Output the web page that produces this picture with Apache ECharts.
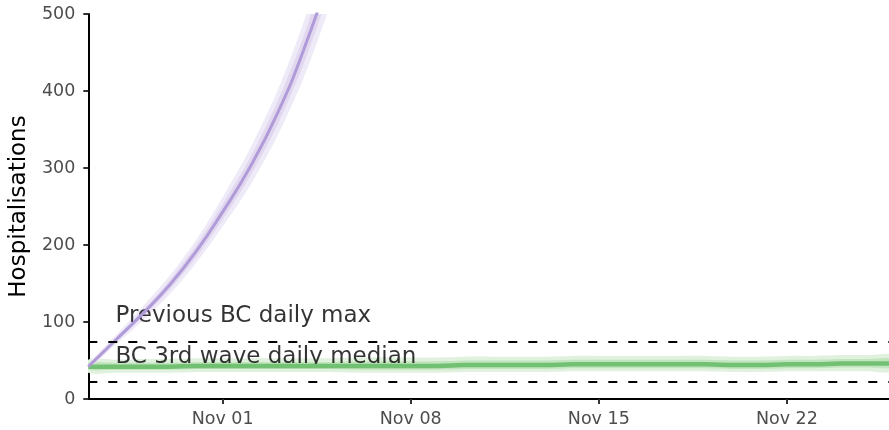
<!DOCTYPE html>
<html>
<head>
<meta charset="utf-8">
<script src="https://cdn.jsdelivr.net/npm/echarts@6/dist/echarts.min.js"></script>
<style>
  html, body { margin: 0; padding: 0; background: #fff; }
  #chart { width: 889px; height: 430px; }
</style>
</head>
<body>
<div id="chart"></div>
<script>
// days from Oct 27 to Nov 26
const dates = ['Oct 27', 'Oct 28', 'Oct 29', 'Oct 30', 'Oct 31',
  'Nov 01', 'Nov 02', 'Nov 03', 'Nov 04', 'Nov 05', 'Nov 06', 'Nov 07',
  'Nov 08', 'Nov 09', 'Nov 10', 'Nov 11', 'Nov 12', 'Nov 13', 'Nov 14',
  'Nov 15', 'Nov 16', 'Nov 17', 'Nov 18', 'Nov 19', 'Nov 20', 'Nov 21',
  'Nov 22', 'Nov 23', 'Nov 24', 'Nov 25', 'Nov 26']
const tickLabels = ['Nov 01', 'Nov 08', 'Nov 15', 'Nov 22']
const yTicks = [0, 100, 200, 300, 400, 500]

// purple projection (goes off the top)
const purpleMid = [42, 76, 110, 147, 191, 243, 300, 368, 452, 556, 680]
const purpleLoOut = [39, 70, 101, 135, 176, 224, 276, 339, 416, 512, 626]
const purpleHiOut = [45, 82, 119, 159, 206, 262, 324, 397, 488, 600, 734]
const purpleLoIn = [40, 73, 106, 141, 183, 233, 288, 353, 434, 534, 653]
const purpleHiIn = [44, 79, 114, 153, 199, 253, 312, 383, 470, 578, 707]

// green projection (flat)
const greenMid = [42, 42, 42, 42, 43, 43, 43, 43, 43, 43, 43, 43, 43, 43, 44, 44,
  44, 44, 45, 45, 45, 45, 45, 45, 44, 44, 45, 45, 46, 46, 46]
const greenLoOut = [34, 34, 34, 34, 35, 35, 35, 35, 35, 35, 34, 34, 34, 34, 35, 35,
  35, 35, 36, 36, 36, 36, 36, 36, 35, 35, 36, 36, 36, 36, 36]
const greenHiOut = [51, 51, 52, 52, 53, 53, 53, 53, 53, 53, 54, 54, 54, 54, 55, 55,
  55, 55, 56, 56, 56, 56, 56, 56, 55, 55, 56, 56, 57, 57, 57]
const greenLoIn = [38, 38, 38, 38, 39, 39, 39, 39, 39, 39, 38, 38, 38, 38, 39, 39,
  39, 39, 40, 40, 40, 40, 40, 40, 39, 39, 40, 40, 41, 41, 41]
const greenHiIn = [47, 47, 47, 47, 48, 48, 48, 48, 48, 48, 49, 49, 49, 49, 50, 50,
  50, 50, 51, 51, 51, 51, 51, 51, 50, 50, 51, 51, 52, 52, 52]

// reference lines
const refLines = [75, 23]
const annoText = ['Previous BC daily max', 'BC 3rd wave daily median']
const annoPos = [[1.01, 108], [1.01, 55]]

const font = 'DejaVu Sans'
const toPairs = (arr) => arr.map((v, i) => [i, v])

// ribbon drawn as one polygon: upper edge then lower edge backwards
const ribbon = (lo, hi, color) => ({
  type: 'custom',
  silent: true,
  clip: true,
  data: lo.map((v, i) => [i, v, hi[i]]),
  encode: { x: 0, y: [1, 2] },
  renderItem: (params, api) => {
    if (params.dataIndex !== 0) return
    const top = hi.map((v, i) => api.coord([i, v]))
    const bottom = lo.map((v, i) => api.coord([i, v])).reverse()
    return {
      type: 'polygon',
      shape: { points: top.concat(bottom), smooth: 0.3 },
      style: { fill: color }
    }
  }
})

const chart = echarts.init(document.getElementById('chart'))

const option = {
  animation: false,
  grid: { left: 86, right: 0, top: 14, bottom: 31, containLabel: false },
  xAxis: {
    type: 'value',
    min: 0,
    max: 29.8,
    axisLine: { show: true, lineStyle: { color: '#000', width: 2 } },
    axisTick: {
      show: true,
      length: 5,
      lineStyle: { color: '#333', width: 2 },
      customValues: tickLabels.map(l => dates.indexOf(l))
    },
    axisLabel: {
      color: '#4d4d4d',
      fontFamily: font,
      fontSize: 17.5,
      margin: 11,
      customValues: tickLabels.map(l => dates.indexOf(l)),
      formatter: (v) => dates[Math.round(v)]
    },
    splitLine: { show: false }
  },
  yAxis: {
    type: 'value',
    min: 0,
    max: 500,
    interval: 100,
    name: 'Hospitalisations',
    nameLocation: 'middle',
    nameGap: 45,
    nameTextStyle: { color: '#000', fontFamily: font, fontSize: 23 },
    axisLine: { show: true, lineStyle: { color: '#000', width: 2 } },
    axisTick: { show: true, length: 5, lineStyle: { color: '#333', width: 2 } },
    axisLabel: {
      color: '#4d4d4d',
      fontFamily: font,
      fontSize: 17.5,
      margin: 13,
      customValues: yTicks
    },
    splitLine: { show: false }
  },
  series: [
    ribbon(greenLoOut, greenHiOut, '#e0f1de'),
    ribbon(greenLoIn, greenHiIn, '#c2e4bf'),
    {
      name: 'green',
      type: 'line',
      data: toPairs(greenMid),
      smooth: true,
      symbol: 'none',
      lineStyle: { color: '#72c172', width: 4.5 }
    },
    ribbon(purpleLoOut, purpleHiOut, '#efeaf7'),
    ribbon(purpleLoIn, purpleHiIn, '#e1d8f0'),
    {
      name: 'purple',
      type: 'line',
      data: toPairs(purpleMid),
      smooth: true,
      symbol: 'none',
      lineStyle: { color: '#b09bd8', width: 3 }
    },
    {
      name: 'refs',
      type: 'line',
      data: [],
      markLine: {
        silent: true,
        symbol: 'none',
        label: { show: false },
        lineStyle: { color: '#000', width: 2, type: [9, 11] },
        data: refLines.map(v => ({ yAxis: v }))
      }
    },
    {
      name: 'notes',
      type: 'scatter',
      symbolSize: 0,
      silent: true,
      data: annoPos.map((p, i) => ({ value: p, text: annoText[i] })),
      label: {
        show: true,
        position: 'right',
        distance: 0,
        color: '#000',
        fontFamily: font,
        fontSize: 23,
        formatter: (p) => p.data.text
      }
    }
  ]
}

chart.setOption(option)
</script>
</body>
</html>
